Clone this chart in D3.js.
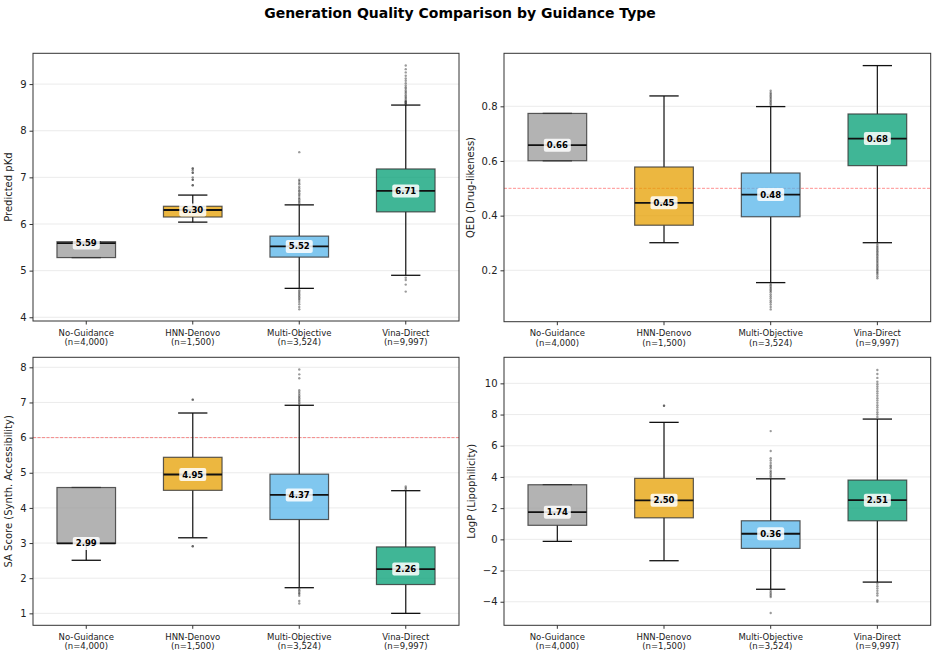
<!DOCTYPE html>
<html>
<head>
<meta charset="utf-8">
<script src="https://cdn.jsdelivr.net/npm/d3@7"></script>
<style>
  body { margin: 0; background: #fff; }
  svg { font-family: "DejaVu Sans", sans-serif; }
</style>
</head>
<body>
<div id="chart"></div>
<script>
// categories
const groups = ["No-Guidance", "HNN-Denovo", "Multi-Objective", "Vina-Direct"];
const counts = ["4,000", "1,500", "3,524", "9,997"];
const groupColors = ["#999999", "#E69F00", "#56B4E9", "#009E73"];

// box stats per group: [whisker low, q1, median, q3, whisker high]
const pkdStats = [
  [5.28, 5.28, 5.59, 5.62, 5.62],
  [6.04, 6.15, 6.30, 6.38, 6.62],
  [4.62, 5.29, 5.52, 5.74, 6.41],
  [4.90, 6.26, 6.71, 7.18, 8.55]
];
const pkdOutliers = [
  [],
  [6.83, 6.83, 6.95, 6.95, 7.00, 7.10, 7.10, 7.15, 7.19, 7.19],
  [6.44, 6.47, 6.5, 6.53, 6.56, 6.6, 6.63, 6.66, 6.7, 6.72, 6.76, 6.8, 6.85, 6.88, 6.92, 6.95, 7.54,
   4.58, 4.55, 4.52, 4.49, 4.46, 4.43, 4.4, 4.37, 4.33, 4.28, 4.22, 4.17],
  [8.57, 8.58, 8.6, 8.61, 8.63, 8.64, 8.67, 8.7, 8.73, 8.76, 8.8, 8.83, 8.86, 8.9, 8.93, 8.97, 9.02, 9.07, 9.12, 9.18, 9.25, 9.32, 9.4,
   4.85, 4.8, 4.7, 4.55]
];

const qedStats = [
  [0.601, 0.601, 0.658, 0.774, 0.774],
  [0.301, 0.365, 0.447, 0.578, 0.838],
  [0.155, 0.396, 0.477, 0.556, 0.799],
  [0.301, 0.583, 0.682, 0.772, 0.949]
];
const qedOutliers = [
  [],
  [],
  [0.805, 0.81, 0.815, 0.82, 0.825, 0.83, 0.835, 0.84, 0.845, 0.85, 0.857,
   0.15, 0.145, 0.14, 0.135, 0.13, 0.125, 0.12, 0.112, 0.105, 0.098, 0.09, 0.083, 0.075, 0.066, 0.057],
  [0.296, 0.29, 0.285, 0.28, 0.275, 0.27, 0.265, 0.26, 0.255, 0.25, 0.245, 0.24, 0.235, 0.23, 0.225,
   0.22, 0.215, 0.21, 0.205, 0.2, 0.195, 0.19, 0.185, 0.178, 0.171]
];

const saStats = [
  [2.51, 2.99, 2.99, 4.58, 4.58],
  [3.15, 4.50, 4.95, 5.44, 6.70],
  [1.73, 3.67, 4.37, 4.96, 6.92],
  [1.00, 1.82, 2.26, 2.89, 4.49]
];
const saOutliers = [
  [],
  [7.08, 7.08, 2.91, 2.91],
  [6.96, 7.0, 7.04, 7.08, 7.12, 7.16, 7.2, 7.25, 7.3, 7.35, 7.69, 7.8, 7.94,
   1.7, 1.66, 1.62, 1.58, 1.55, 1.5, 1.35, 1.28],
  [4.53, 4.57, 4.61]
];

const logpStats = [
  [-0.13, 0.90, 1.74, 3.50, 3.50],
  [-1.37, 1.38, 2.50, 3.91, 7.50],
  [-3.20, -0.58, 0.36, 1.19, 3.88],
  [-2.74, 1.19, 2.51, 3.80, 7.71]
];
const logpOutliers = [
  [],
  [8.56, 8.56],
  [4.0, 4.1, 4.2, 4.3, 4.4, 4.55, 4.65, 4.75, 4.9, 5.05, 5.2, 5.66, 6.94,
   -3.3, -3.4, -3.5, -3.6, -3.7, -4.72],
  [7.85, 8.0, 8.15, 8.3, 8.45, 8.6, 8.75, 8.9, 9.05, 9.2, 9.35, 9.5, 9.65, 9.8, 9.95, 10.1, 10.35, 10.6, 10.86,
   -2.85, -3.0, -3.15, -3.3, -3.45, -3.6, -3.9, -4.0]
];

// y-axis settings per panel
const panelLabels = ["Predicted pKd", "QED (Drug-likeness)", "SA Score (Synth. Accessibility)", "LogP (Lipophilicity)"];
const panelDomains = [[3.92, 9.66], [0.012, 0.994], [0.66, 8.285], [-5.51, 11.67]];
const panelTicks = [[4, 5, 6, 7, 8, 9], [0.2, 0.4, 0.6, 0.8], [1, 2, 3, 4, 5, 6, 7, 8], [-4, -2, 0, 2, 4, 6, 8, 10]];
const panelRefLines = [null, 0.5, 6, null];

const panels = [
  { stats: pkdStats, outliers: pkdOutliers, frame: [33, 53.3, 459, 321], labelOffset: 21 },
  { stats: qedStats, outliers: qedOutliers, frame: [504, 53.3, 930.7, 321.7], labelOffset: 30 },
  { stats: saStats, outliers: saOutliers, frame: [33, 357.3, 459, 625.3], labelOffset: 21 },
  { stats: logpStats, outliers: logpOutliers, frame: [504, 357.3, 930.7, 625.3], labelOffset: 29 }
];

const width = 938, height = 655;
const svg = d3.select("#chart").append("svg")
  .attr("width", width)
  .attr("height", height);

svg.append("text")
  .attr("x", 460)
  .attr("y", 18)
  .attr("text-anchor", "middle")
  .style("font-size", "14px")
  .style("font-weight", "bold")
  .text("Generation Quality Comparison by Guidance Type");

const fmtTick = d => d < 0 ? "\u2212" + Math.abs(d) : String(d);

panels.forEach((p, i) => {
  const [x0, y0, x1, y1] = p.frame;
  const g = svg.append("g");

  const x = d3.scaleBand().domain(groups).range([x0, x1]).padding(0);
  const y = d3.scaleLinear().domain(panelDomains[i]).range([y1, y0]);
  const bw = x.bandwidth() * 0.55;
  const cx = d => x(d) + x.bandwidth() / 2;

  // grid
  g.selectAll(".grid")
    .data(panelTicks[i])
    .enter().append("line")
    .attr("x1", x0).attr("x2", x1)
    .attr("y1", d => y(d)).attr("y2", d => y(d))
    .attr("stroke", "#e6e6e6")
    .attr("stroke-width", 0.8);

  // reference line
  if (panelRefLines[i] !== null) {
    g.append("line")
      .attr("x1", x0).attr("x2", x1)
      .attr("y1", y(panelRefLines[i])).attr("y2", y(panelRefLines[i]))
      .attr("stroke", "red")
      .attr("stroke-opacity", 0.55)
      .attr("stroke-width", 0.8)
      .attr("stroke-dasharray", "3,1.5");
  }

  const box = g.selectAll(".box")
    .data(groups)
    .enter().append("g");

  // whiskers
  box.append("line")
    .attr("x1", cx).attr("x2", cx)
    .attr("y1", (d, j) => y(p.stats[j][0]))
    .attr("y2", (d, j) => y(p.stats[j][1]))
    .attr("stroke", "#222").attr("stroke-width", 1.3);
  box.append("line")
    .attr("x1", cx).attr("x2", cx)
    .attr("y1", (d, j) => y(p.stats[j][3]))
    .attr("y2", (d, j) => y(p.stats[j][4]))
    .attr("stroke", "#222").attr("stroke-width", 1.3);

  // caps
  [0, 4].forEach(k => {
    box.append("line")
      .attr("x1", d => cx(d) - bw / 4).attr("x2", d => cx(d) + bw / 4)
      .attr("y1", (d, j) => y(p.stats[j][k]))
      .attr("y2", (d, j) => y(p.stats[j][k]))
      .attr("stroke", "#111").attr("stroke-width", 1.3);
  });

  // outliers
  box.each(function(d, j) {
    d3.select(this).selectAll("circle")
      .data(p.outliers[j])
      .enter().append("circle")
      .attr("cx", cx(d))
      .attr("cy", v => y(v))
      .attr("r", 1.2)
      .attr("fill", "#222")
      .attr("fill-opacity", 0.45);
  });

  // boxes
  box.append("rect")
    .attr("x", d => cx(d) - bw / 2)
    .attr("width", bw)
    .attr("y", (d, j) => y(p.stats[j][3]))
    .attr("height", (d, j) => Math.max(1, y(p.stats[j][1]) - y(p.stats[j][3])))
    .attr("fill", (d, j) => groupColors[j])
    .attr("fill-opacity", 0.75)
    .attr("stroke", "#333")
    .attr("stroke-opacity", 0.8)
    .attr("stroke-width", 1.2);

  // medians
  box.append("line")
    .attr("x1", d => cx(d) - bw / 2).attr("x2", d => cx(d) + bw / 2)
    .attr("y1", (d, j) => y(p.stats[j][2]))
    .attr("y2", (d, j) => y(p.stats[j][2]))
    .attr("stroke", "#111").attr("stroke-width", 1.8);

  // median labels
  box.append("rect")
    .attr("x", d => cx(d) - 13.5)
    .attr("y", (d, j) => y(p.stats[j][2]) - 6.5)
    .attr("width", 27).attr("height", 13)
    .attr("rx", 2)
    .attr("fill", "#fff")
    .attr("fill-opacity", 0.85);
  box.append("text")
    .attr("x", cx)
    .attr("y", (d, j) => y(p.stats[j][2]) + 3)
    .attr("text-anchor", "middle")
    .style("font-size", "8.5px")
    .style("font-weight", "bold")
    .text((d, j) => p.stats[j][2].toFixed(2));

  // frame
  g.append("rect")
    .attr("x", x0).attr("y", y0)
    .attr("width", x1 - x0).attr("height", y1 - y0)
    .attr("fill", "none")
    .attr("stroke", "#333")
    .attr("stroke-width", 1);

  // y axis
  const yAxis = g.append("g")
    .attr("transform", `translate(${x0},0)`)
    .call(d3.axisLeft(y).tickValues(panelTicks[i]).tickSize(3.5).tickPadding(3).tickFormat(fmtTick));
  yAxis.select(".domain").remove();
  yAxis.selectAll("text").style("font-size", "10px").style("font-family", "DejaVu Sans").attr("fill", "#222");
  yAxis.selectAll("line").attr("stroke", "#333");

  // x axis
  const xAxis = g.append("g")
    .attr("transform", `translate(0,${y1})`)
    .call(d3.axisBottom(x).tickSize(3.5).tickFormat(""));
  xAxis.select(".domain").remove();
  xAxis.selectAll("line").attr("stroke", "#333");

  const xl = g.selectAll(".xlab")
    .data(groups)
    .enter().append("text")
    .attr("text-anchor", "middle")
    .style("font-size", "8.5px")
    .attr("fill", "#222");
  xl.append("tspan").attr("x", cx).attr("y", y1 + 14.5).text(d => d);
  xl.append("tspan").attr("x", cx).attr("y", y1 + 24).text((d, j) => `(n=${counts[j]})`);

  // y label
  g.append("text")
    .attr("transform", `translate(${x0 - p.labelOffset},${(y0 + y1) / 2}) rotate(-90)`)
    .attr("text-anchor", "middle")
    .style("font-size", "10px")
    .attr("fill", "#222")
    .text(panelLabels[i]);
});
</script>
</body>
</html>
